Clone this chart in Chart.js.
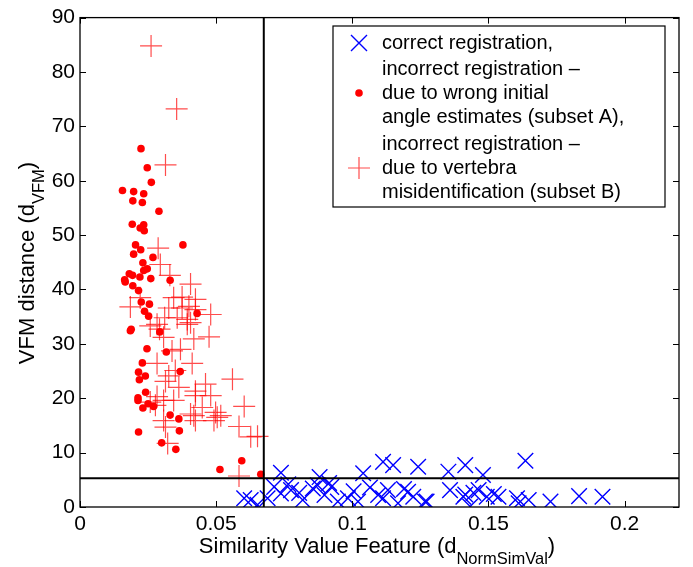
<!DOCTYPE html>
<html>
<head>
<meta charset="utf-8">
<script src="https://cdn.jsdelivr.net/npm/chart.js@4.4.1/dist/chart.umd.min.js"></script>
<style>
  html, body { margin: 0; padding: 0; background: #fff; }
  #wrap { width: 693px; height: 567px; }
</style>
</head>
<body>
<div id="wrap"><canvas id="myChart" width="693" height="567"></canvas></div>
<script>
// correct registration (blue x)
const correctX = [0.0738, 0.088, 0.104, 0.1113, 0.115, 0.1242, 0.0627, 0.0652, 0.0713, 0.0738, 0.0775, 0.0818,
  0.0855, 0.0873, 0.0898, 0.0923, 0.0947, 0.0984, 0.1021, 0.1095, 0.1113, 0.1131, 0.1168, 0.1205, 0.1224, 0.1273,
  0.0689, 0.0603, 0.1353, 0.1415, 0.148, 0.1636, 0.1267, 0.1359, 0.1408, 0.1415, 0.1433, 0.1464, 0.1494, 0.1537,
  0.1605, 0.1648, 0.1728, 0.1833, 0.1919, 0.1611, 0.0765, 0.0805, 0.0915, 0.1005, 0.1065, 0.119, 0.1445, 0.1520];
const correctY = [6.3, 5.5, 6.2, 8.3, 7.7, 7.4, 1.3, 0.4, 3.7, 2.5, 3.1, 1.3,
  3.4, 4.0, 2.2, 3.7, 1.0, 1.6, 1.0, 2.2, 1.6, 3.1, 0.7, 2.8, 1.9, 1.0,
  1.6, 1.6, 6.5, 7.7, 5.9, 8.5, 1.0, 3.1, 1.9, 2.3, 0.1, 3.1, 1.9, 1.9,
  1.6, 1.3, 1.0, 2.0, 1.9, 0.7, 4.2, 2.6, 4.4, 2.9, 3.6, 3.3, 2.6, 2.4];

// incorrect registration, subset A (red dots)
const subsetAX = [0.0224, 0.0247, 0.0262, 0.0156, 0.0197, 0.0234, 0.0194, 0.0229, 0.029, 0.0192, 0.0234, 0.0221,
  0.0236, 0.0378, 0.0204, 0.0223, 0.0197, 0.0268, 0.0231, 0.0247, 0.0234, 0.0181, 0.0193, 0.022, 0.026,
  0.0164, 0.0166, 0.0331, 0.0194, 0.0215, 0.0225, 0.0255, 0.0237, 0.0252, 0.043, 0.0188, 0.0185, 0.0293,
  0.0246, 0.0317, 0.0229, 0.0215, 0.0368, 0.024, 0.0218, 0.0241, 0.0213, 0.0213, 0.025, 0.027, 0.0231,
  0.0331, 0.0363, 0.0215, 0.0365, 0.03, 0.0352, 0.0514, 0.0594, 0.0664];
const subsetAY = [65.9, 62.4, 59.7, 58.2, 58.0, 57.6, 56.3, 56.0, 54.4, 52.0, 51.9, 51.3,
  50.8, 48.2, 48.2, 47.3, 46.5, 45.9, 44.9, 43.8, 43.5, 42.9, 42.6, 42.3, 42.0,
  41.8, 41.4, 41.7, 40.7, 39.8, 37.7, 37.3, 36.0, 35.1, 35.6, 32.7, 32.4, 32.2,
  29.1, 28.5, 26.5, 24.8, 24.9, 24.1, 23.4, 21.1, 20.1, 19.6, 19.0, 18.5, 18.2,
  16.9, 16.2, 13.8, 14.0, 11.8, 10.6, 6.9, 8.5, 6.0];

// incorrect registration, subset B (red plus)
const subsetBX = [0.0261, 0.0355, 0.0314, 0.0287, 0.0295, 0.033, 0.0406, 0.0221, 0.0344, 0.0375, 0.0424,
  0.0185, 0.04, 0.0326, 0.048, 0.0311, 0.0394, 0.0292, 0.0258, 0.0418, 0.0474, 0.0338, 0.0283, 0.0412,
  0.035, 0.056, 0.0314, 0.0461, 0.0363, 0.0424, 0.0283, 0.0307, 0.0258, 0.0603, 0.0449, 0.0498, 0.0406,
  0.0517, 0.0424, 0.0492, 0.0314, 0.0584, 0.0652, 0.0627, 0.0322, 0.0584, 0.0375, 0.0424, 0.0357, 0.0283,
  0.0394, 0.0406, 0.0307, 0.0369, 0.0326, 0.048, 0.0424, 0.0418, 0.0504, 0.0277, 0.0307, 0.0344];
const subsetBY = [84.8, 73.2, 62.9, 47.6, 44.6, 42.6, 41.0, 38.5, 38.5, 38.6, 38.2,
  36.8, 36.9, 36.6, 35.4, 34.8, 34.5, 32.7, 33.3, 30.9, 31.3, 28.7, 26.4, 26.4,
  25.1, 23.5, 23.1, 22.6, 22.0, 21.3, 20.3, 19.6, 19.3, 18.5, 18.3, 17.4, 17.1,
  16.8, 15.9, 15.9, 14.7, 14.8, 13.0, 12.9, 11.7, 5.7, 36.6, 36.3, 34.8, 33.6,
  33.6, 33.9, 31.2, 29.0, 24.1, 20.5, 20.5, 16.8, 16.5, 18.7, 15.9, 19.6];

// threshold lines
const thresholdX = 0.0675;
const thresholdY = 5.3;
const xTicks = [0, 0.05, 0.1, 0.15, 0.2];
const yTicks = [0, 10, 20, 30, 40, 50, 60, 70, 80, 90];

const FONT = "'Liberation Sans', Arial, sans-serif";
const BLUE = '#0000ff';
const toPts = (xs, ys) => xs.map((x, i) => ({ x: x, y: ys[i] }));

// inward ticks, frame, axis titles and legend (matlab look)
const matlabFrame = {
  id: 'matlabFrame',
  afterDatasetsDraw(chart) {
    const { ctx, chartArea: { left, right, top, bottom }, scales: { x, y } } = chart;
    ctx.save();
    ctx.strokeStyle = '#000';
    ctx.lineWidth = 1.3;
    ctx.strokeRect(left, top, right - left, bottom - top);
    ctx.lineWidth = 1;
    ctx.beginPath();
    xTicks.forEach(v => {
      const px = Math.round(x.getPixelForValue(v)) + 0.5;
      ctx.moveTo(px, bottom); ctx.lineTo(px, bottom - 6);
      ctx.moveTo(px, top); ctx.lineTo(px, top + 6);
    });
    yTicks.forEach(v => {
      const py = Math.round(y.getPixelForValue(v)) + 0.5;
      ctx.moveTo(left, py); ctx.lineTo(left + 6, py);
      ctx.moveTo(right, py); ctx.lineTo(right - 6, py);
    });
    ctx.stroke();

    // x title with subscript
    ctx.fillStyle = '#000';
    ctx.textBaseline = 'alphabetic';
    ctx.textAlign = 'left';
    const big = '22px ' + FONT, small = '16.5px ' + FONT;
    ctx.font = big;
    const xa = 'Similarity Value Feature (d', xc = ')';
    const wa = ctx.measureText(xa).width, wc = ctx.measureText(xc).width;
    ctx.font = small;
    const xb = 'NormSimVal', wb = ctx.measureText(xb).width;
    let sx = 377 - (wa + wb + wc) / 2;
    ctx.font = big; ctx.fillText(xa, sx, 553);
    ctx.font = small; ctx.fillText(xb, sx + wa, 564);
    ctx.font = big; ctx.fillText(xc, sx + wa + wb, 553);

    // y title with subscript (rotated)
    ctx.save();
    ctx.translate(34, 263);
    ctx.rotate(-Math.PI / 2);
    ctx.font = big;
    const ya = 'VFM distance (d', yc = ')';
    const ywa = ctx.measureText(ya).width, ywc = ctx.measureText(yc).width;
    ctx.font = small;
    const yb = 'VFM', ywb = ctx.measureText(yb).width;
    let sy = -(ywa + ywb + ywc) / 2;
    ctx.font = big; ctx.fillText(ya, sy, 0);
    ctx.font = small; ctx.fillText(yb, sy + ywa, 10);
    ctx.font = big; ctx.fillText(yc, sy + ywa + ywb, 0);
    ctx.restore();

    // legend box
    ctx.fillStyle = '#fff';
    ctx.fillRect(333, 26, 332, 181);
    ctx.strokeStyle = '#000';
    ctx.lineWidth = 1.2;
    ctx.strokeRect(333, 26, 332, 181);
    ctx.fillStyle = '#000';
    ctx.font = '20px ' + FONT;
    ctx.textBaseline = 'middle';
    const lines = [
      ['correct registration,', 43],
      ['incorrect registration \u2013', 69],
      ['due to wrong initial', 93],
      ['angle estimates (subset A),', 117],
      ['incorrect registration \u2013', 144],
      ['due to vertebra', 168],
      ['misidentification (subset B)', 192]
    ];
    lines.forEach(([t, yy]) => ctx.fillText(t, 382, yy));
    // legend markers
    ctx.strokeStyle = BLUE;
    ctx.lineWidth = 1.4;
    ctx.beginPath();
    ctx.moveTo(351, 35); ctx.lineTo(367, 51);
    ctx.moveTo(367, 35); ctx.lineTo(351, 51);
    ctx.stroke();
    ctx.fillStyle = '#ff0000';
    ctx.beginPath();
    ctx.arc(359, 93, 3.8, 0, Math.PI * 2);
    ctx.fill();
    ctx.strokeStyle = 'rgba(255,0,0,0.7)';
    ctx.lineWidth = 1.2;
    ctx.beginPath();
    ctx.moveTo(348, 168); ctx.lineTo(370, 168);
    ctx.moveTo(359, 157); ctx.lineTo(359, 179);
    ctx.stroke();
    ctx.restore();
  }
};

const data = {
  datasets: [
    {
      label: 'thresholdV',
      type: 'line',
      data: [{ x: thresholdX, y: 0 }, { x: thresholdX, y: 90 }],
      borderColor: '#000',
      borderWidth: 2,
      pointRadius: 0,
      showLine: true,
      order: 0
    },
    {
      label: 'thresholdH',
      type: 'line',
      data: [{ x: 0, y: thresholdY }, { x: 0.22, y: thresholdY }],
      borderColor: '#000',
      borderWidth: 2,
      pointRadius: 0,
      showLine: true,
      order: 0
    },
    {
      label: 'incorrect registration – due to vertebra misidentification (subset B)',
      data: toPts(subsetBX, subsetBY),
      pointStyle: 'cross',
      pointRadius: 11,
      borderColor: 'rgba(255,0,0,0.7)',
      pointBorderColor: 'rgba(255,0,0,0.7)',
      borderWidth: 1.2,
      pointBorderWidth: 1.2,
      order: 1
    },
    {
      label: 'incorrect registration – due to wrong initial angle estimates (subset A)',
      data: toPts(subsetAX, subsetAY),
      pointStyle: 'circle',
      pointRadius: 3.8,
      backgroundColor: '#ff0000',
      pointBackgroundColor: '#ff0000',
      borderWidth: 0,
      pointBorderWidth: 0,
      order: 2
    },
    {
      label: 'correct registration',
      data: toPts(correctX, correctY),
      pointStyle: 'crossRot',
      pointRadius: 11,
      borderColor: BLUE,
      pointBorderColor: BLUE,
      backgroundColor: BLUE,
      pointBackgroundColor: BLUE,
      borderWidth: 1.4,
      pointBorderWidth: 1.4,
      order: 3
    }
  ]
};

const config = {
  type: 'scatter',
  data,
  options: {
    responsive: false,
    animation: false,
    events: [],
    layout: { padding: { top: 15, right: 14, left: 0, bottom: 0 } },
    plugins: {
      legend: { display: false },
      tooltip: { enabled: false }
    },
    scales: {
      x: {
        type: 'linear',
        min: 0,
        max: 0.22,
        grid: { display: false, drawTicks: false },
        border: { display: false },
        afterFit(scale) { scale.height = 60; },
        afterBuildTicks(scale) { scale.ticks = xTicks.map(v => ({ value: v })); },
        ticks: {
          padding: 5,
          color: '#000',
          font: { family: FONT, size: 21 },
          maxRotation: 0,
          callback: v => (v === 0 ? '0' : String(+v.toFixed(2)))
        }
      },
      y: {
        type: 'linear',
        min: 0,
        max: 90,
        grid: { display: false, drawTicks: false },
        border: { display: false },
        afterFit(scale) { scale.width = 80; },
        afterBuildTicks(scale) { scale.ticks = yTicks.map(v => ({ value: v })); },
        ticks: {
          padding: 5,
          color: '#000',
          font: { family: FONT, size: 21 }
        }
      }
    }
  },
  plugins: [matlabFrame]
};

const myChart = new Chart(document.getElementById('myChart'), config);
</script>
</body>
</html>
